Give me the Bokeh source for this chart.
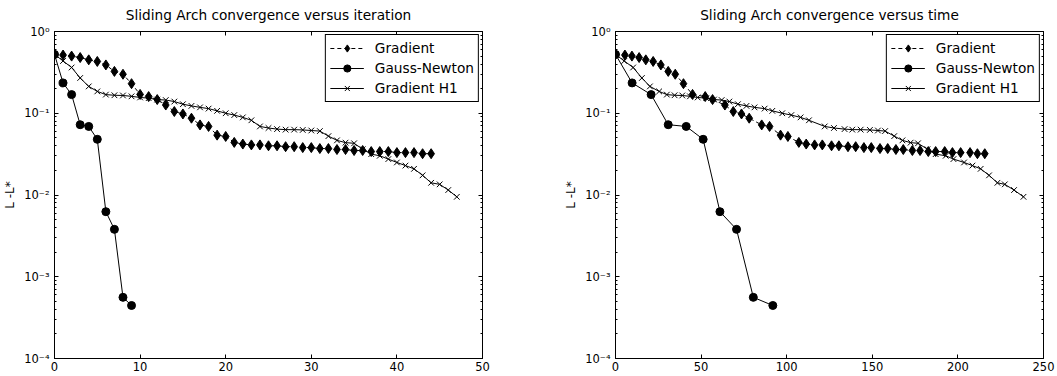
from bokeh.plotting import figure
from bokeh.models import LogAxis, LinearAxis, FixedTicker, Legend, LegendItem, Range1d
from bokeh.layouts import row
from bokeh.embed import file_html
from bokeh.resources import INLINE

# ---------------- data ----------------
iter_grad = list(range(45))
grad_vals = [0.525, 0.515, 0.50, 0.48, 0.45, 0.43, 0.39, 0.325, 0.30, 0.23,
             0.17, 0.16, 0.147, 0.126, 0.105, 0.098, 0.087, 0.072, 0.069, 0.054,
             0.052, 0.044, 0.042, 0.041, 0.041, 0.040, 0.040, 0.039, 0.039, 0.038,
             0.038, 0.037, 0.037, 0.036, 0.036, 0.035, 0.035, 0.034, 0.034, 0.034,
             0.033, 0.033, 0.033, 0.032, 0.032]
time_grad = [0, 5.5, 9.6, 13.8, 17.7, 22, 26.5, 30.8, 34.9, 39.7,
             45, 52.4, 56.7, 63.9, 68.8, 73.6, 78.1, 85.4, 90, 96.4,
             100.7, 107.1, 111.4, 116.3, 120.8, 126.2, 130.5, 135.8, 140.3, 145.1,
             149.4, 154.5, 159, 163.8, 168.1, 173.4, 177.9, 182.7, 187, 192.3,
             196.8, 201.6, 207.1, 211.4, 215.7]

iter_gn = list(range(10))
gn_vals = [0.525, 0.235, 0.169, 0.0724, 0.069, 0.048, 0.00625, 0.0038, 0.00056, 0.000445]
time_gn = [0, 9.7, 20.8, 30.8, 41.3, 51.2, 61, 70.7, 80.5, 91.9]

iter_h1 = list(range(48))
h1_vals = [0.525, 0.436, 0.363, 0.27, 0.213, 0.185, 0.169, 0.166, 0.165, 0.161,
           0.156, 0.153, 0.147, 0.145, 0.139, 0.129, 0.123, 0.118, 0.114, 0.107,
           0.100, 0.095, 0.089, 0.082, 0.069, 0.066, 0.064, 0.063, 0.063, 0.0625,
           0.0615, 0.0605, 0.0525, 0.0466, 0.0437, 0.0429, 0.0363, 0.0316, 0.0302, 0.0275,
           0.025, 0.0229, 0.0209, 0.0174, 0.0141, 0.0135, 0.0115, 0.0095]
time_h1 = [0, 5.1, 10.3, 15.4, 20.1, 25.5, 30, 34.5, 39, 43.5,
           48, 53, 57.5, 62, 66.5, 71.5, 76.5, 81.2, 87.1, 91.6,
           97.4, 102.7, 108.1, 113, 122.2, 127.6, 133.8, 138.3, 143.2, 148.6,
           153.3, 157.5, 162.8, 167.6, 172.4, 176.7, 182.2, 187, 192.9, 197.4,
           203.6, 208.5, 213.3, 218.2, 223.1, 227.4, 232.8, 238.3]

series_labels = ["Gradient", "Gauss-Newton", "Gradient H1"]
y_ticks = [1e-4, 1e-3, 1e-2, 1e-1, 1.0]
y_tick_labels = ["10\u207b\u2074", "10\u207b\u00b3", "10\u207b\u00b2", "10\u207b\u00b9", "10\u2070"]
y_minor = [m * t for t in [1e-4, 1e-3, 1e-2, 1e-1] for m in range(2, 10)]
x_ticks_iter = [0, 10, 20, 30, 40, 50]
x_ticks_time = [0, 50, 100, 150, 200, 250]

FONT = "DejaVu Sans"
TICK_SIZE = "11.5px"
BIG_SIZE = "13.7px"


def style_axis(ax, ticks, show_labels=True):
    ax.axis_line_color = "black"
    ax.major_tick_line_color = "black"
    ax.minor_tick_line_color = "black"
    ax.major_tick_in = 4
    ax.major_tick_out = 0
    ax.minor_tick_in = 2
    ax.minor_tick_out = 0
    ax.major_label_text_font = FONT
    ax.major_label_text_color = "black"
    ax.axis_label_text_font = FONT
    ax.axis_label_text_font_style = "normal"
    ax.axis_label_text_font_size = "12px"
    ax.axis_label_text_color = "black"
    if show_labels:
        ax.major_label_text_font_size = TICK_SIZE
    else:
        ax.major_label_text_font_size = "1px"
        ax.major_label_standoff = 0
        ax.major_label_overrides = {t: " " for t in ticks}


def make_fig(title, x_end, x_ticks, xs_g, xs_gn, xs_h1, width, b_left, b_right):
    p = figure(width=width, height=376, x_range=Range1d(0, x_end), y_range=Range1d(1e-4, 1),
               y_axis_type="log", output_backend="svg", toolbar_location=None,
               min_border_left=b_left, min_border_right=b_right,
               min_border_top=27, min_border_bottom=18, title=title)
    p.title.text_font = FONT
    p.title.text_font_size = BIG_SIZE
    p.title.text_font_style = "normal"
    p.title.text_color = "black"
    p.title.align = "center"
    p.title.standoff = 9
    p.outline_line_color = "black"
    p.outline_line_alpha = 1
    p.xgrid.visible = False
    p.ygrid.visible = False

    xa = p.xaxis[0]
    xa.ticker = FixedTicker(ticks=x_ticks)
    style_axis(xa, x_ticks)
    xa.minor_tick_line_color = None
    xa.major_label_standoff = 3

    ya = p.yaxis[0]
    ya.ticker = FixedTicker(ticks=y_ticks, minor_ticks=y_minor)
    style_axis(ya, y_ticks)
    ya.major_label_overrides = dict(zip(y_ticks, y_tick_labels))
    ya.major_label_standoff = 5
    ya.axis_label = "L -L*"
    ya.axis_label_standoff = 4

    top = LinearAxis(ticker=FixedTicker(ticks=x_ticks))
    style_axis(top, x_ticks, show_labels=False)
    top.minor_tick_line_color = None
    p.add_layout(top, "above")

    right = LogAxis(ticker=FixedTicker(ticks=y_ticks, minor_ticks=y_minor))
    style_axis(right, y_ticks, show_labels=False)
    p.add_layout(right, "right")

    lg = p.line(xs_g, grad_vals, line_color="black", line_width=1, line_dash="4 3")
    sg = p.scatter(xs_g, grad_vals, marker="diamond", size=10, fill_color="black", line_color="black")
    ln = p.line(xs_gn, gn_vals, line_color="black", line_width=1)
    sn = p.scatter(xs_gn, gn_vals, marker="circle", size=8, fill_color="black", line_color="black")
    lh = p.line(xs_h1, h1_vals, line_color="black", line_width=1)
    sh = p.scatter(xs_h1, h1_vals, marker="x", size=8, line_color="black", line_width=1)

    legend = Legend(items=[LegendItem(label=series_labels[0], renderers=[lg, sg]),
                           LegendItem(label=series_labels[1], renderers=[ln, sn]),
                           LegendItem(label=series_labels[2], renderers=[lh, sh])],
                    location="top_right")
    legend.border_line_color = "black"
    legend.border_line_width = 1
    legend.border_line_alpha = 1
    legend.background_fill_alpha = 1
    legend.margin = 3
    legend.padding = 4
    legend.spacing = 2
    legend.glyph_width = 34
    legend.glyph_height = 18
    legend.label_height = 18
    legend.label_standoff = 11
    legend.label_text_font = FONT
    legend.label_text_font_size = BIG_SIZE
    legend.label_text_color = "black"
    p.add_layout(legend)
    return p


p1 = make_fig("Sliding Arch convergence versus iteration", 50, x_ticks_iter,
              iter_grad, iter_gn, iter_h1, 540, 53, 58)
p2 = make_fig("Sliding Arch convergence versus time", 250, x_ticks_time,
              time_grad, time_gn, time_h1, 517, 75, 14)

layout = row(p1, p2)
open("out.html", "w").write(file_html(layout, INLINE))
